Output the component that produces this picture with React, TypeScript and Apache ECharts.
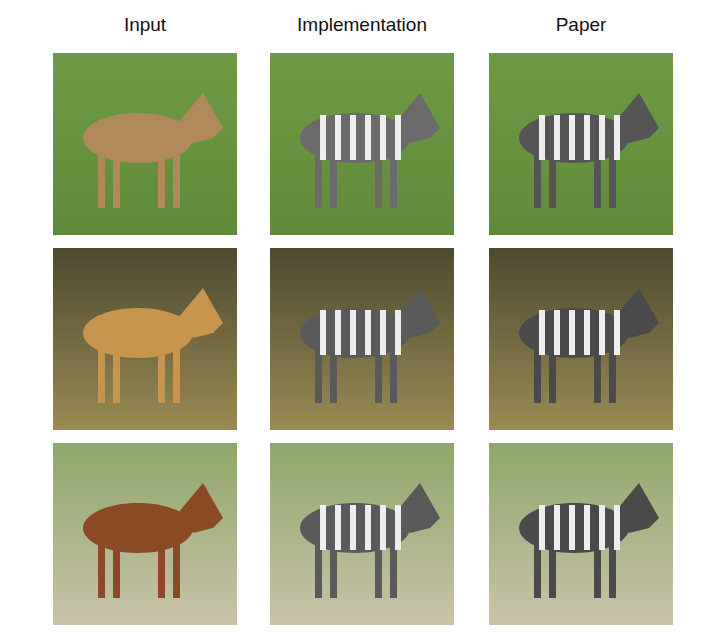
import React, { useEffect, useRef } from "react";
import * as echarts from "echarts";

const columns = ["Input", "Implementation", "Paper"];
const colX = [45, 262, 481];
const rowY = [45, 240, 435];
// scene colours per row: [top, bottom]
const sceneTop = ["#6f9a45", "#4d4a2e", "#8fa76a"];
const sceneBottom = ["#5f8a3a", "#9a8a55", "#c9c3a8"];
// animal colour per column
const animal = ["#a0703f", "#5a5a5a", "#4a4a4a"];
const animalRow1 = ["#c9a57a", "#6a6a6a", "#555555"];

const App: React.FC = () => {
  const ref = useRef<HTMLDivElement | null>(null);

  useEffect(() => {
    if (!ref.current) return;
    const chart = echarts.init(ref.current, undefined, { renderer: "svg" });
    const elements: any[] = [];
    columns.forEach((name, c) => {
      elements.push({
        type: "text",
        x: colX[c] + 92,
        y: 16,
        style: {
          text: name,
          fill: "#111",
          font: "19px 'Liberation Sans', Arial, sans-serif",
          align: "center",
          verticalAlign: "middle",
        },
      });
      rowY.forEach((y, r) => {
        const x = colX[c];
        elements.push({
          type: "rect",
          shape: { x, y, width: 184, height: 182 },
          style: {
            fill: new echarts.graphic.LinearGradient(0, 0, 0, 1, [
              { offset: 0, color: sceneTop[r] },
              { offset: 1, color: sceneBottom[r] },
            ]),
          },
        });
        const body = r === 0 ? animalRow1[c] : animal[c];
        const bc = c === 0 ? (r === 0 ? "#b08a5c" : r === 1 ? "#c8954e" : "#8a4a25") : body;
        elements.push({
          type: "ellipse",
          shape: { cx: x + 85, cy: y + 85, rx: 55, ry: 25 },
          style: { fill: bc },
        });
        elements.push({
          type: "polygon",
          shape: {
            points: [
              [x + 125, y + 70],
              [x + 150, y + 40],
              [x + 170, y + 75],
              [x + 160, y + 85],
              [x + 140, y + 90],
            ],
          },
          style: { fill: bc },
        });
        [45, 60, 105, 120].forEach((dx) => {
          elements.push({
            type: "rect",
            shape: { x: x + dx, y: y + 100, width: 7, height: 55 },
            style: { fill: bc },
          });
        });
        if (c > 0) {
          [50, 65, 80, 95, 110, 125].forEach((dx) => {
            elements.push({
              type: "rect",
              shape: { x: x + dx, y: y + 62, width: 6, height: 45 },
              style: { fill: "#eeeeee" },
            });
          });
        }
      });
    });
    chart.setOption({ animation: false, graphic: { elements } });
    return () => chart.dispose();
  }, []);

  return <div ref={ref} style={{ width: 710, height: 622 }} />;
};

export default App;
